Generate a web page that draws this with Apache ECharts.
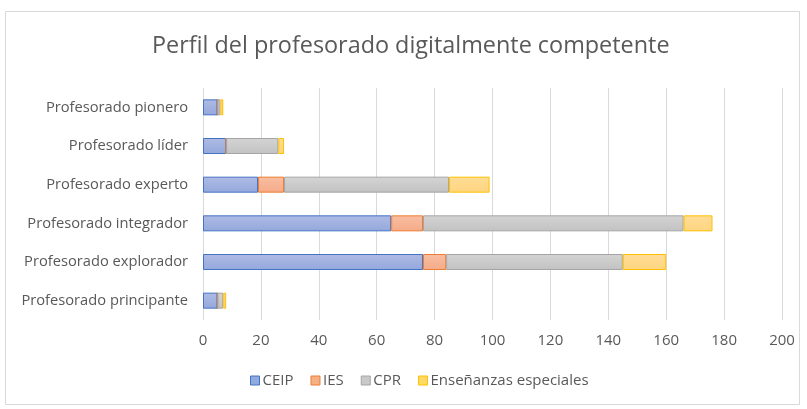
<!DOCTYPE html>
<html><head><meta charset="utf-8">
<script src="https://cdn.jsdelivr.net/npm/echarts@6/dist/echarts.min.js"></script>
<style>html,body{margin:0;padding:0;background:#fff}#c{width:807px;height:409px}</style>
</head><body><div id="c"></div>
<script>
var categories = ['Profesorado principante','Profesorado explorador','Profesorado integrador','Profesorado experto','Profesorado líder','Profesorado pionero'];
var ceip = [5, 76, 65, 19, 8, 5];
var ies = [0, 8, 11, 9, 0, 0];
var cpr = [2, 61, 90, 57, 18, 1];
var especiales = [1, 15, 10, 14, 2, 1];
var seriesNames = ['CEIP','IES','CPR','Enseñanzas especiales'];
var xTicks = {min: 0, max: 200, interval: 20};

var FONT = 'Open Sans, sans-serif';
function grad(top, bottom){
  return {type:'linear',x:0,y:0,x2:0,y2:1,colorStops:[{offset:0,color:top},{offset:1,color:bottom}]};
}
var styles = [
  {fill: grad('#aebbe4','#94a8dc'), border:'#4472c4', legend:'#8faadc'},
  {fill: grad('#f8bea2','#f4ab88'), border:'#ed7d31', legend:'#f4b183'},
  {fill: grad('#d4d4d4','#c2c2c2'), border:'#a5a5a5', legend:'#c9c9c9'},
  {fill: grad('#ffdc97','#ffd57f'), border:'#ffc000', legend:'#ffd966'}
];
var data = [ceip, ies, cpr, especiales];
var series = data.map(function(d, i){
  return {
    name: seriesNames[i], type:'bar', stack:'total', data:d, barWidth:16,
    itemStyle:{color: styles[i].fill, borderColor: styles[i].border, borderWidth:1},
    emphasis:{disabled:true}
  };
});
var chart = echarts.init(document.getElementById('c'), null, {renderer:'canvas'});
chart.setOption({
  animation:false,
  backgroundColor:'#fff',
  title:{text:'Perfil del profesorado digitalmente competente', left:147, top:30,
    textStyle:{fontFamily:FONT, fontSize:23.4, fontWeight:'normal', color:'#595959'}},
  graphic:[{type:'rect', shape:{x:5.5,y:11.5,width:794,height:393}, style:{fill:'none', stroke:'#d9d9d9', lineWidth:1}, silent:true}],
  legend:{bottom:16, left:245, itemWidth:9, itemHeight:9, itemGap:17,
    icon:'rect',
    textStyle:{fontFamily:FONT, fontSize:15, color:'#595959', padding:[0,0,0,-2]},
    data: seriesNames.map(function(n,i){return {name:n, itemStyle:{color:styles[i].legend, borderColor:styles[i].border, borderWidth:1}};})
  },
  grid:{left:203, right:25, top:88, bottom:89},
  xAxis:{type:'value', min:xTicks.min, max:xTicks.max, interval:xTicks.interval,
    axisLine:{show:false}, axisTick:{show:false},
    axisLabel:{fontFamily:FONT, fontSize:15, color:'#595959', margin:13},
    splitLine:{lineStyle:{color:'#d9d9d9', width:1}}},
  yAxis:{type:'category', data:categories,
    axisLine:{show:false}, axisTick:{show:false},
    axisLabel:{fontFamily:FONT, fontSize:14.7, color:'#595959', margin:15}},
  series:series
});
</script></body></html>
